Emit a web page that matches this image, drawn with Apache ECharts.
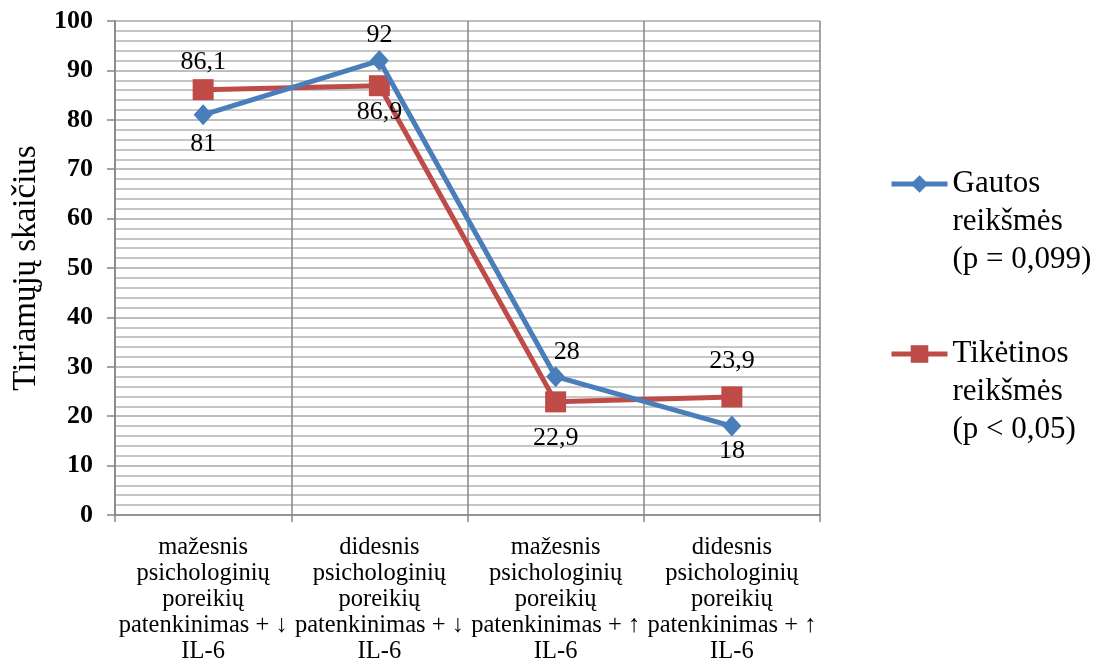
<!DOCTYPE html>
<html>
<head>
<meta charset="utf-8">
<script src="https://cdn.jsdelivr.net/npm/echarts@6/dist/echarts.min.js"></script>
<style>
  html, body { margin: 0; padding: 0; background: #fff; }
  #chart { width: 1100px; height: 666px; }
</style>
</head>
<body>
<div id="chart"></div>
<script>
// Categories along the x axis
const categories = [
  'mažesnis\npsichologinių\nporeikių\npatenkinimas + ↓\nIL-6',
  'didesnis\npsichologinių\nporeikių\npatenkinimas + ↓\nIL-6',
  'mažesnis\npsichologinių\nporeikių\npatenkinimas + ↑\nIL-6',
  'didesnis\npsichologinių\nporeikių\npatenkinimas + ↑\nIL-6'
];

// Series names and values
const obtainedName = 'Gautos\nreikšmės\n(p = 0,099)';
const expectedName = 'Tikėtinos\nreikšmės\n(p < 0,05)';
const obtained = [81, 92, 28, 18];
const expected = [86.1, 86.9, 22.9, 23.9];

// Value axis range
const yMin = 0;
const yMax = 100;
const yStep = 10;

const FONT = '"Liberation Serif", "Times New Roman", "DejaVu Serif", serif';
const BLUE = '#4A7EBB';
const RED = '#BE4B48';

const fmt = v => String(v).replace('.', ',');

// Label placement for each point (side, distance from the marker, x shift)
function withLabels(values, sides, dists, offsets) {
  return values.map((v, i) => ({
    value: v,
    label: { position: sides[i], distance: dists[i], offset: [offsets[i], 0] }
  }));
}

const chart = echarts.init(document.getElementById('chart'));

// Legend entries: the icon sits on the first line of the three-line name,
// so two blank lines are prepended to keep the text block centred on it.
const legendBase = {
  orient: 'vertical',
  left: 889,
  padding: 0,
  itemWidth: 56,
  itemHeight: 22,
  formatter: name => '\n\n' + name,
  lineStyle: { width: 5 },
  textStyle: {
    fontFamily: FONT,
    fontSize: 31,
    color: '#000',
    lineHeight: 38
  }
};

chart.setOption({
  backgroundColor: '#fff',
  animation: false,
  textStyle: { fontFamily: FONT },
  grid: { left: 115, right: 280, top: 21, bottom: 151, containLabel: false },
  legend: [
    Object.assign({}, legendBase, { top: 89, data: [obtainedName] }),
    Object.assign({}, legendBase, { top: 259, data: [expectedName] })
  ],
  xAxis: {
    type: 'category',
    data: categories,
    boundaryGap: true,
    axisLine: { lineStyle: { color: '#868686', width: 1.5 } },
    axisTick: { show: true, length: 7, lineStyle: { color: '#868686', width: 1.5 } },
    splitLine: { show: true, lineStyle: { color: '#868686', width: 1.5 } },
    axisLabel: {
      interval: 0,
      margin: 20,
      fontFamily: FONT,
      fontSize: 24.5,
      lineHeight: 26,
      color: '#000'
    }
  },
  yAxis: {
    type: 'value',
    min: yMin,
    max: yMax,
    interval: yStep,
    name: 'Tiriamųjų skaičius',
    nameLocation: 'middle',
    nameRotate: 90,
    nameGap: 72,
    nameTextStyle: { fontFamily: FONT, fontSize: 33, color: '#000' },
    axisLine: { show: true, lineStyle: { color: '#868686', width: 1.5 } },
    axisTick: { show: true, length: 8, lineStyle: { color: '#868686', width: 1.5 } },
    axisLabel: {
      margin: 22,
      fontFamily: FONT,
      fontSize: 26,
      fontWeight: 'bold',
      color: '#000'
    },
    splitLine: { show: true, lineStyle: { color: '#a8a8a8', width: 1.5 } },
    minorTick: { show: false, splitNumber: 5 },
    minorSplitLine: { show: true, lineStyle: { color: '#b4b4b4', width: 1.5 } }
  },
  series: [
    {
      name: obtainedName,
      type: 'line',
      data: withLabels(obtained, ['bottom', 'top', 'top', 'bottom'], [6, 2, 1, 2], [0, 0, 11, 0]),
      symbol: 'diamond',
      symbolSize: [19, 21],
      showAllSymbol: true,
      z: 3,
      lineStyle: { color: BLUE, width: 5 },
      itemStyle: { color: BLUE },
      label: {
        show: true,
        formatter: p => fmt(p.value),
        fontFamily: FONT,
        fontSize: 26,
        color: '#000'
      }
    },
    {
      name: expectedName,
      type: 'line',
      data: withLabels(expected, ['top', 'bottom', 'bottom', 'top'], [4, 3, 13, 12], [0, 0, 0, 0]),
      symbol: 'rect',
      symbolSize: 21,
      showAllSymbol: true,
      z: 2,
      lineStyle: { color: RED, width: 5 },
      itemStyle: { color: RED },
      label: {
        show: true,
        formatter: p => fmt(p.value),
        fontFamily: FONT,
        fontSize: 26,
        color: '#000'
      }
    }
  ]
});
</script>
</body>
</html>
